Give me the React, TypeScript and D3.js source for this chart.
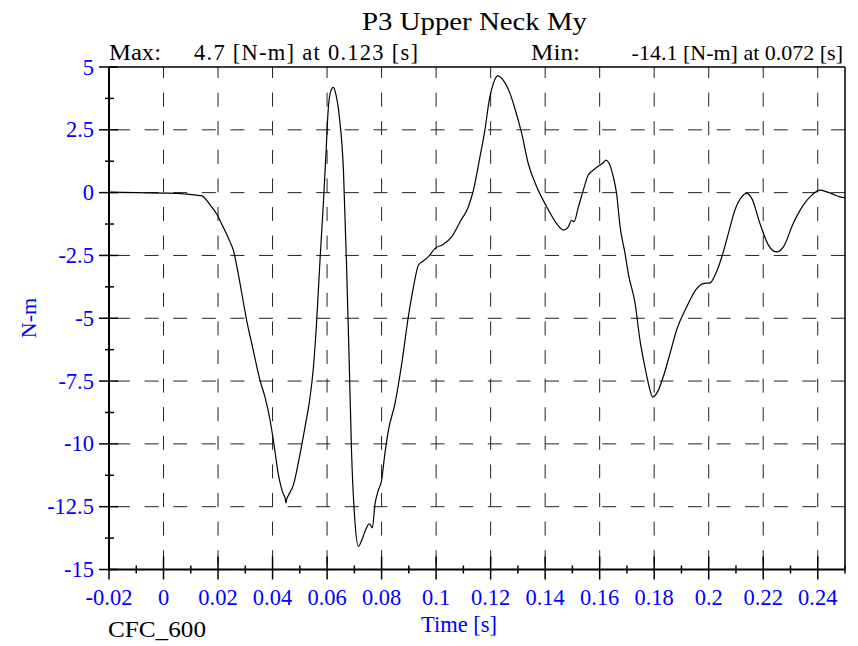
import * as d3 from "d3";

// neck moment trace
const timeS = [
  -0.02, -0.01, 0, 0.005, 0.0085, 0.012, 0.014, 0.0158, 0.0175, 0.0195,
  0.0218, 0.0244, 0.0256, 0.0274, 0.0305, 0.0329, 0.0354, 0.0372, 0.0391, 0.0403,
  0.0421, 0.0439, 0.0446, 0.0449, 0.0452, 0.0458, 0.0476, 0.0501, 0.0519, 0.0535,
  0.055, 0.0562, 0.0574, 0.0586, 0.0596, 0.0604, 0.0613, 0.0623, 0.0633, 0.0645,
  0.066, 0.0672, 0.0682, 0.069, 0.0702, 0.0715, 0.0727, 0.0743, 0.0755, 0.0766,
  0.0776, 0.0788, 0.08, 0.0812, 0.0825, 0.0849, 0.0874, 0.0898, 0.0917, 0.0935,
  0.0953, 0.0971, 0.0996, 0.1026, 0.1057, 0.1088, 0.1118, 0.1137, 0.1161, 0.1179,
  0.1195, 0.121, 0.1226, 0.1246, 0.1271, 0.1289, 0.1314, 0.1338, 0.1369, 0.1406,
  0.1442, 0.1467, 0.1485, 0.1497, 0.1506, 0.1522, 0.154, 0.1558, 0.1577, 0.1601,
  0.1613, 0.1623, 0.1635, 0.165, 0.1662, 0.1675, 0.1693, 0.1705, 0.173, 0.1748,
  0.1766, 0.1785, 0.1794, 0.1815, 0.1833, 0.1858, 0.1882, 0.1919, 0.1956, 0.198,
  0.2005, 0.2023, 0.2048, 0.2072, 0.2096, 0.2121, 0.2139, 0.2158, 0.2188, 0.2219,
  0.2249, 0.2274, 0.231, 0.2347, 0.2378, 0.2408, 0.2433, 0.2457, 0.2482, 0.25,
];

const momentNm = [
  0.02, 0.0, -0.02, -0.03, -0.06, -0.1, -0.12, -0.3, -0.55, -0.85,
  -1.35, -1.96, -2.29, -3.22, -5.08, -6.27, -7.47, -8.13, -9.06, -9.86,
  -11.19, -11.98, -12.15, -12.35, -12.2, -12.05, -11.65, -10.39, -9.33, -8.33,
  -6.94, -5.08, -2.69, -0.5, 1.56, 3.29, 4.02, 4.19, 3.88, 3.02,
  0.9, -3.09, -7.07, -10.39, -13.05, -14.08, -13.84, -13.38, -13.18, -13.34,
  -12.38, -11.85, -11.45, -10.39, -9.46, -8.4, -6.8, -4.95, -3.75, -2.89,
  -2.72, -2.56, -2.22, -2.06, -1.76, -1.16, -0.57, 0.1, 1.43, 2.49,
  3.69, 4.35, 4.65, 4.48, 3.95, 3.35, 2.36, 1.16, 0.23, -0.57,
  -1.23, -1.49, -1.36, -1.1, -1.16, -0.57, 0.1, 0.7, 0.9, 1.1,
  1.19, 1.29, 1.16, 0.63, -0.03, -1.36, -2.42, -3.22, -4.41, -5.88,
  -6.94, -7.87, -8.13, -7.87, -7.34, -6.41, -5.48, -4.55, -3.82, -3.62,
  -3.59, -3.29, -2.56, -1.63, -0.7, -0.17, -0.03, -0.23, -1.23, -2.09,
  -2.36, -2.16, -1.23, -0.5, -0.1, 0.1, 0.03, -0.07, -0.17, -0.2,
];

const xMajorTicks = [-0.02, 0, 0.02, 0.04, 0.06, 0.08, 0.1, 0.12, 0.14, 0.16, 0.18, 0.2, 0.22, 0.24];
const xTickLabels = ["-0.02", "0", "0.02", "0.04", "0.06", "0.08", "0.1", "0.12", "0.14", "0.16", "0.18", "0.2", "0.22", "0.24"];
const xMinorTicks = [-0.01, 0.01, 0.03, 0.05, 0.07, 0.09, 0.11, 0.13, 0.15, 0.17, 0.19, 0.21, 0.23, 0.25];

const yMajorTicks = [5, 2.5, 0, -2.5, -5, -7.5, -10, -12.5, -15];
const yTickLabels = ["5", "2.5", "0", "-2.5", "-5", "-7.5", "-10", "-12.5", "-15"];
const yMinorTicks = [3.75, 1.25, -1.25, -3.75, -6.25, -8.75, -11.25, -13.75];

const TITLE = "P3 Upper Neck My";
const MAX_TEXT = "4.7 [N-m] at 0.123 [s]";
const MIN_TEXT = "-14.1 [N-m] at 0.072 [s]";

const W = 858;
const H = 646;
const PLOT = {left: 109, right: 845, top: 67, bottom: 569.5};
const FONT = "'Liberation Serif', 'Times New Roman', serif";
const BLUE = "#0000ff";

export default function App() {
    const xScale = d3.scaleLinear().domain([-0.02, 0.25]).range([PLOT.left, PLOT.right]);
    const yScale = d3.scaleLinear().domain([-15, 5]).range([PLOT.bottom, PLOT.top]);

    const points = timeS.map((t, i) => [t, momentNm[i]] as [number, number]);
    const linePath = d3
        .line<[number, number]>()
        .x((d) => xScale(d[0]))
        .y((d) => yScale(d[1]))
        .curve(d3.curveMonotoneX)(points) ?? "";

    return (
        <svg
            width={W}
            height={H}
            style={{position: "absolute", left: 0, top: 0, background: "#fff"}}
            fontFamily={FONT}
        >
            {/* grid */}
            {yMajorTicks.slice(1, -1).map((v) => (
                <line
                    key={"hg" + v}
                    x1={PLOT.left}
                    x2={PLOT.right}
                    y1={yScale(v)}
                    y2={yScale(v)}
                    stroke="#222"
                    strokeWidth={1}
                    strokeDasharray="14 14.6"
                    strokeDashoffset={-7}
                />
            ))}
            {xMajorTicks.slice(1).map((t) => (
                <line
                    key={"vg" + t}
                    x1={xScale(t)}
                    x2={xScale(t)}
                    y1={PLOT.top}
                    y2={PLOT.bottom}
                    stroke="#222"
                    strokeWidth={1}
                    strokeDasharray="14 14.6"
                    strokeDashoffset={3}
                />
            ))}

            {/* frame */}
            <line x1={PLOT.left} x2={PLOT.right} y1={PLOT.top} y2={PLOT.top} stroke="#000" strokeWidth={1.5} />
            <line x1={PLOT.right} x2={PLOT.right} y1={PLOT.top} y2={PLOT.bottom} stroke="#000" strokeWidth={1.5} />
            <line x1={PLOT.left} x2={PLOT.left} y1={PLOT.top} y2={PLOT.bottom + 1} stroke="#000" strokeWidth={2} />
            <line x1={PLOT.left - 1} x2={PLOT.right} y1={PLOT.bottom} y2={PLOT.bottom} stroke="#000" strokeWidth={2} />

            {/* y ticks */}
            {yMajorTicks.map((v) => (
                <line key={"yt" + v} x1={PLOT.left - 10} x2={PLOT.left + 9} y1={yScale(v)} y2={yScale(v)} stroke="#000" strokeWidth={1.5} />
            ))}
            {yMinorTicks.map((v) => (
                <line key={"ym" + v} x1={PLOT.left - 4} x2={PLOT.left + 5} y1={yScale(v)} y2={yScale(v)} stroke="#000" strokeWidth={1.5} />
            ))}
            {yMajorTicks.map((v, i) => (
                <text key={"yl" + v} x={94} y={yScale(v) + 7.5} textAnchor="end" fontSize={22.5} fill={BLUE}>
                    {yTickLabels[i]}
                </text>
            ))}

            {/* x ticks */}
            {xMajorTicks.map((t) => (
                <line key={"xt" + t} x1={xScale(t)} x2={xScale(t)} y1={PLOT.bottom - 13} y2={PLOT.bottom + 10} stroke="#000" strokeWidth={1.5} />
            ))}
            {xMinorTicks.map((t) => (
                <line key={"xm" + t} x1={xScale(t)} x2={xScale(t)} y1={PLOT.bottom - 4} y2={PLOT.bottom + 4} stroke="#000" strokeWidth={1.5} />
            ))}
            {xMajorTicks.map((t, i) => (
                <text key={"xl" + t} x={xScale(t)} y={605} textAnchor="middle" fontSize={22.5} fill={BLUE}>
                    {xTickLabels[i]}
                </text>
            ))}

            {/* data */}
            <path d={linePath} fill="none" stroke="#000" strokeWidth={1.2} />

            {/* texts */}
            <text x={362} y={30} fontSize={26} fill="#000" textLength={225} lengthAdjust="spacingAndGlyphs">{TITLE}</text>
            <text x={109} y={60} fontSize={22.5} fill="#000" textLength={52} lengthAdjust="spacingAndGlyphs">Max:</text>
            <text x={194} y={60} fontSize={22.5} fill="#000" textLength={224} lengthAdjust="spacing">{MAX_TEXT}</text>
            <text x={531} y={60} fontSize={22.5} fill="#000" textLength={49} lengthAdjust="spacingAndGlyphs">Min:</text>
            <text x={843} y={60} fontSize={22} fill="#000" textAnchor="end">{MIN_TEXT}</text>
            <text x={459} y={632} textAnchor="middle" fontSize={22.5} fill={BLUE}>Time [s]</text>
            <text transform="translate(36,318) rotate(-90)" textAnchor="middle" fontSize={22} fill={BLUE}>N-m</text>
            <text x={108} y={637} fontSize={23} fill="#000" textLength={98} lengthAdjust="spacingAndGlyphs">CFC_600</text>
        </svg>
    );
}
